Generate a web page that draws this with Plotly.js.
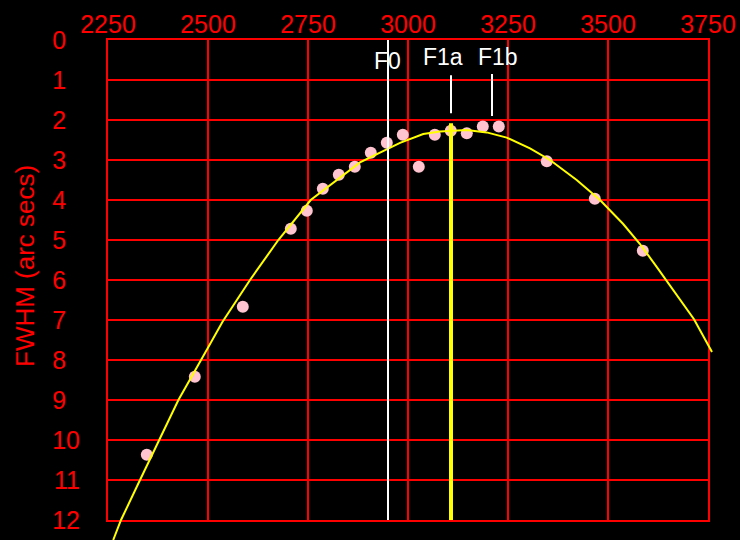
<!DOCTYPE html>
<html>
<head>
<meta charset="utf-8">
<script src="https://cdn.plot.ly/plotly-3.0.1.min.js"></script>
<style>html,body{margin:0;padding:0;background:#000;}#chart{width:740px;height:540px;}</style>
</head>
<body>
<div id="chart"></div>
<script>
// ---- data ----
var focusPos = [2347, 2467, 2587, 2707, 2747, 2787, 2827, 2867, 2907, 2947, 2987, 3027, 3067, 3107, 3147, 3187, 3227, 3347, 3467, 3587];
var fwhm     = [10.37, 8.42, 6.67, 4.72, 4.27, 3.72, 3.37, 3.17, 2.82, 2.57, 2.37, 3.17, 2.37, 2.27, 2.33, 2.16, 2.16, 3.03, 3.97, 5.27];

var fitX = [2263, 2282.5, 2330, 2377.5, 2426, 2496.7, 2536, 2605, 2675.8, 2756.7, 2880, 2980, 3038, 3080, 3146.7, 3196.7, 3246.7, 3305, 3355, 3421.7, 3480, 3538, 3580, 3621.7, 3680, 3715, 3748, 3760];
var fitY = [12.5, 12, 11, 10, 9.0, 7.75, 7.05, 6.0, 5.0, 4.0, 3.06, 2.57, 2.35, 2.29, 2.25, 2.31, 2.44, 2.71, 3.0, 3.5, 4.0, 4.6, 5.1, 5.67, 6.5, 6.98, 7.58, 7.8];

var focusNames = ["F0", "F1a", "F1b"];
var focusX     = [2950, 3107.5, 3210];
var f1aTopY    = 2.08;

var xTickVals = [2250, 2500, 2750, 3000, 3250, 3500, 3750];
var xTickText = ["2250", "2500", "2750", "3000", "3250", "3500", "3750"];
var yTickVals = [0, 1, 2, 3, 4, 5, 6, 7, 8, 9, 10, 11, 12];
var yTickText = ["0", "1", "2", "3", "4", "5", "6", "7", "8", "9", "10", "11", "12"];
var yTitle = "FWHM (arc secs)";

// ---- geometry ----
var W = 740, H = 540;
var plotL = 108, plotR = 708, plotT = 40, plotB = 520;
var xRange = [2250, 3750], yRange = [12, 0];
var xPerPx = (xRange[1] - xRange[0]) / (plotR - plotL);
var yPerPx = (yRange[0] - yRange[1]) / (plotB - plotT);
var x2Range = [xRange[0] - plotL * xPerPx, xRange[1] + (W - plotR) * xPerPx];
var y2Range = [yRange[0] + (H - plotB) * yPerPx, yRange[1] - plotT * yPerPx];

var FS = "\u2007";
var yTickPadded = yTickText.map(function (t) { return t.length < 2 ? t + FS : t; });

var red = "#ff0000";
var fontFam = "Liberation Sans, Arial, sans-serif";
var tickFont = {family: fontFam, size: 25, color: red};

var traces = [
  {x: focusPos, y: fwhm, type: "scatter", mode: "markers", xaxis: "x", yaxis: "y",
   marker: {color: "#ffc4cf", size: 12, line: {width: 0}}, hoverinfo: "none"},
  {x: fitX, y: fitY, type: "scatter", mode: "lines", xaxis: "x2", yaxis: "y2",
   line: {color: "#ffff00", width: 2}, hoverinfo: "none"}
];

var shapes = [
  {type: "line", xref: "x", yref: "y", x0: focusX[0], x1: focusX[0], y0: yRange[1], y1: yRange[0],
   line: {color: "#ffffff", width: 2}, layer: "above"},
  {type: "line", xref: "x", yref: "y", x0: focusX[1], x1: focusX[1], y0: f1aTopY, y1: yRange[0],
   line: {color: "#ffff00", width: 4}, layer: "above"},
  {type: "line", xref: "x", yref: "y", x0: focusX[1], x1: focusX[1], y0: 0.88, y1: 1.83,
   line: {color: "#ffffff", width: 2}, layer: "above"},
  {type: "line", xref: "x", yref: "y", x0: focusX[2], x1: focusX[2], y0: 0.85, y1: 1.9,
   line: {color: "#ffffff", width: 2}, layer: "above"}
];

var labelShift = [-1, -8.5, 5.5];
var labelY = [0.53, 0.43, 0.42];
var annotations = focusNames.map(function (n, i) {
  return {text: n, xref: "x", yref: "y", x: focusX[i], y: labelY[i], xshift: labelShift[i],
          showarrow: false, xanchor: "center", yanchor: "middle",
          font: {family: fontFam, size: 23, color: "#ffffff"}};
});
annotations.push({text: yTitle, xref: "paper", yref: "paper", x: 25 / W, y: 1 - 266 / H,
                  showarrow: false, xanchor: "center", yanchor: "middle", textangle: -90,
                  font: {family: fontFam, size: 26, color: red}});

var layout = {
  width: W, height: H,
  paper_bgcolor: "#000000", plot_bgcolor: "rgba(0,0,0,0)",
  margin: {l: 0, r: 0, t: 0, b: 0, pad: 0},
  showlegend: false,
  xaxis: {domain: [plotL / W, plotR / W], range: xRange, side: "top", anchor: "y",
          tickmode: "array", tickvals: xTickVals, ticktext: xTickText,
          showgrid: true, gridcolor: red, gridwidth: 2, zeroline: false,
          showline: true, mirror: true, linecolor: red, linewidth: 2,
          ticks: "", ticklabelstandoff: -5, tickfont: tickFont, automargin: false, fixedrange: true},
  yaxis: {domain: [1 - plotB / H, 1 - plotT / H], range: yRange, anchor: "x",
          tickmode: "array", tickvals: yTickVals, ticktext: yTickPadded,
          showgrid: true, gridcolor: red, gridwidth: 2, zeroline: false,
          showline: true, mirror: true, linecolor: red, linewidth: 2,
          ticks: "", ticklabelstandoff: 21, tickfont: tickFont, automargin: false, fixedrange: true},
  xaxis2: {domain: [0, 1], range: x2Range, anchor: "y2", visible: false, fixedrange: true},
  yaxis2: {domain: [0, 1], range: y2Range, anchor: "x2", visible: false, fixedrange: true},
  shapes: shapes,
  annotations: annotations
};

Plotly.newPlot("chart", traces, layout, {staticPlot: true, displayModeBar: false});
</script>
</body>
</html>
